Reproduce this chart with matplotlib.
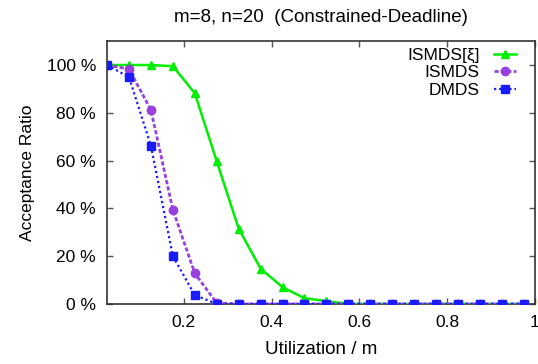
import matplotlib
matplotlib.use("Agg")
import matplotlib.pyplot as plt
from matplotlib.ticker import FuncFormatter

plt.rcParams["font.family"] = ["Liberation Sans", "DejaVu Sans"]

utilization = [0.025, 0.075, 0.125, 0.175, 0.225, 0.275, 0.325, 0.375, 0.425, 0.475,
               0.525, 0.575, 0.625, 0.675, 0.725, 0.775, 0.825, 0.875, 0.925, 0.975]
ismds_xi = [100, 100, 100, 99.5, 88.2, 59.7, 31.5, 14.8, 7.0, 2.4,
            1.2, 0, 0, 0, 0, 0, 0, 0, 0, 0]
ismds = [100, 98.3, 81.2, 39.4, 12.8, 0.4, 0, 0, 0, 0,
         0, 0, 0, 0, 0, 0, 0, 0, 0, 0]
dmds = [100, 94.9, 66.2, 20.0, 3.7, 0, 0, 0, 0, 0,
        0, 0, 0, 0, 0, 0, 0, 0, 0, 0]

x_ticks = [0.2, 0.4, 0.6, 0.8, 1.0]
y_ticks = [0, 20, 40, 60, 80, 100]

fig = plt.figure(figsize=(5.38, 3.64), dpi=100)
ax = fig.add_axes([0.199, 0.165, 0.795, 0.722])

ax.plot(utilization, ismds_xi, color="#00ee00", linestyle="-", linewidth=1.8,
        marker="^", markersize=6, label="ISMDS[ξ]", zorder=3)
ax.plot(utilization, ismds, color="#9a40e0", linestyle=(0, (1.5, 0.8)), linewidth=2.0,
        marker="o", markersize=6, label="ISMDS", zorder=4)
ax.plot(utilization, dmds, color="#1a1aff", linestyle=(0, (1, 1.3)), linewidth=1.6,
        marker="s", markersize=5.5, label="DMDS", zorder=5)

ax.set_xlim(0.025, 1.0)
ax.set_ylim(0, 110)
ax.set_xticks(x_ticks)
ax.set_yticks(y_ticks)
ax.xaxis.set_major_formatter(FuncFormatter(lambda v, p: "1" if v == 1.0 else f"{v:.1f}"))
ax.yaxis.set_major_formatter(FuncFormatter(lambda v, p: f"{int(v)} %"))
ax.tick_params(direction="in", top=True, right=True, length=4, width=1,
               color="#555555", labelsize=12.5)
ax.tick_params(axis="y", pad=8)
ax.tick_params(axis="x", pad=8)
for spine in ax.spines.values():
    spine.set_linewidth(1.2)
    spine.set_color("#333333")

ax.set_title("m=8, n=20  (Constrained-Deadline)", fontsize=13.5, pad=14)
ax.set_xlabel("Utilization / m", fontsize=13.5, labelpad=8)
ax.set_ylabel("Acceptance Ratio", fontsize=12.5, labelpad=8)

leg = ax.legend(loc="upper right", bbox_to_anchor=(0.985, 1.02), frameon=False,
                markerfirst=False, handlelength=1.3, fontsize=12.5,
                labelspacing=0.12, handletextpad=0.8, borderaxespad=0.3)
for t in leg.get_texts():
    t.set_ha("right")

fig.savefig("out.png", dpi=100)
